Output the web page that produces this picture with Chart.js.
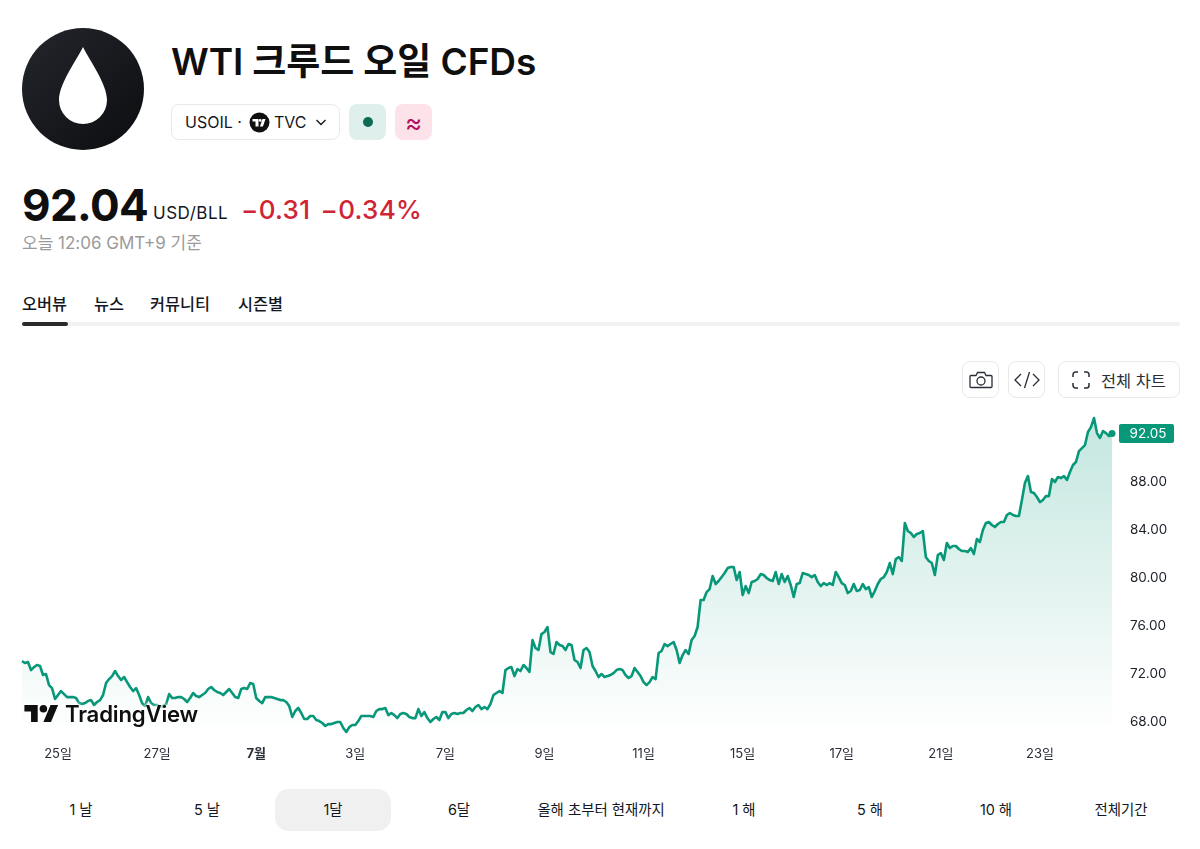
<!DOCTYPE html>
<html lang="ko">
<head>
<meta charset="utf-8">
<title>WTI 크루드 오일 CFDs</title>
<script src="https://cdn.jsdelivr.net/npm/chart.js@4/dist/chart.umd.min.js"></script>
<style>
  * { box-sizing: border-box; }
  html, body { margin: 0; padding: 0; background: #fff; }
  body { width: 1200px; height: 849px; position: relative; overflow: hidden; color: #131722;
         font-family: Inter, "Noto Sans CJK KR", sans-serif; }
  .abs { position: absolute; white-space: nowrap; }
  .logo { left: 22px; top: 28px; width: 122px; height: 122px; }
  .title { left: 171px; top: 39px; font-size: 37px; font-weight: 600; line-height: 46px; letter-spacing: -0.1px; color: #0f0f0f; }
  .box { border: 1px solid #e9e9ea; border-radius: 8px; background: #fff; }
  .pill { left: 171px; top: 104px; width: 169px; height: 36px; }
  .pill span { position: absolute; top: 7px; font-size: 16px; line-height: 20px; }
  .sq { top: 104px; width: 37px; height: 36px; border-radius: 8px; display: flex; align-items: center; justify-content: center; }
  .price { left: 22px; top: 177px; font-size: 44px; font-weight: 700; line-height: 56px; letter-spacing: -0.6px; color: #0f0f0f; }
  .unit { left: 153px; top: 203px; font-size: 17px; line-height: 20px; letter-spacing: 0.5px; }
  .chg { left: 241px; top: 195px; font-size: 26px; font-weight: 500; line-height: 30px; color: #cf2436; word-spacing: 3px; letter-spacing: 0.3px; }
  .asof { left: 22px; top: 233px; font-size: 17px; line-height: 20px; color: #9a9a9a; }
  .tab { top: 294px; font-size: 16.3px; font-weight: 500; line-height: 20px; }
  .rail { left: 22px; top: 322px; width: 1158px; height: 4px; background: #f2f2f2; border-radius: 2px; }
  .rail i { position: absolute; left: 0; top: 0; width: 46px; height: 4px; background: #2a2a2a; border-radius: 2px; }
  .btn { top: 361px; height: 37px; display: flex; align-items: center; justify-content: center; }
  #chartWrap { position: absolute; left: 0; top: 400px; width: 1200px; height: 370px; }
  .tv { left: 24px; top: 700px; height: 26px; display: flex; align-items: center; font-size: 22.2px; font-weight: 600;
        letter-spacing: -0.2px; color: #0f0f0f; text-shadow: 0 0 4px #fff, 0 0 4px #fff, 0 0 4px #fff; }
  .tv svg { filter: drop-shadow(0 0 2px #fff) drop-shadow(0 0 2px #fff); margin-right: 6px; }
  .range { top: 800px; font-size: 14.4px; line-height: 20px; transform: translateX(-50%); }
  .active { left: 275px; top: 789px; width: 116px; height: 42px; background: #f0f0f0; border-radius: 14px; }
</style>
</head>
<body>
  <svg class="abs logo" viewBox="0 0 122 122">
    <defs><linearGradient id="disc" x1="0" y1="0" x2="1" y2="1"><stop offset="0" stop-color="#23262c"/><stop offset="1" stop-color="#0c0d10"/></linearGradient></defs>
    <circle cx="61" cy="61" r="61" fill="url(#disc)"/>
    <path d="M61 19 C68 33 85 56 85 72 A24 24 0 0 1 37 72 C37 56 54 33 61 19 Z" fill="#fff"/>
  </svg>
  <div class="abs title">WTI 크루드 오일 CFDs</div>

  <div class="abs box pill">
    <span style="left:13px">USOIL ·</span>
    <svg style="position:absolute;left:77px;top:7px" width="21" height="21" viewBox="0 0 21 21">
      <circle cx="10.5" cy="10.5" r="10" fill="#0f0f0f"/>
      <path d="M9.500 7H3.500v2.600h3V14.500h3Z M16.500 7h-3l-2.600 7.500h3Z" fill="#fff"/><circle cx="11.200" cy="8.400" r="1.400" fill="#fff"/>
    </svg>
    <span style="left:102px">TVC</span>
    <svg style="position:absolute;left:143px;top:13px" width="12" height="9" viewBox="0 0 12 9"><path d="M1.500 2 6 6.500 10.500 2" fill="none" stroke="#131722" stroke-width="1.400"/></svg>
  </div>
  <div class="abs sq" style="left:349px;background:#dff0ec"><svg width="10" height="10"><circle cx="5" cy="5" r="5" fill="#0b6b55"/></svg></div>
  <div class="abs sq" style="left:395px;background:#fde2ea;color:#b0105f;font-size:26px;font-weight:400">≈</div>

  <div class="abs price">92.04</div>
  <div class="abs unit">USD/BLL</div>
  <div class="abs chg">−0.31 −0.34%</div>
  <div class="abs asof">오늘 12:06 GMT+9 기준</div>

  <div class="abs tab" style="left:22px">오버뷰</div>
  <div class="abs tab" style="left:94px">뉴스</div>
  <div class="abs tab" style="left:150px">커뮤니티</div>
  <div class="abs tab" style="left:238px">시즌별</div>
  <div class="abs rail"><i></i></div>

  <div class="abs box btn" style="left:962px;width:37px">
    <svg width="24" height="20" viewBox="0 0 24 20" fill="none" stroke="#2a2e39" stroke-width="1.300"><path d="M2 5.500h5l1.500-3h7l1.500 3h5a1 1 0 0 1 1 1v10a1 1 0 0 1-1 1H2a1 1 0 0 1-1-1v-10a1 1 0 0 1 1-1Z"/><circle cx="12" cy="11" r="4"/></svg>
  </div>
  <div class="abs box btn" style="left:1008px;width:37px">
    <svg width="28" height="20" viewBox="0 0 28 20" fill="none" stroke="#2a2e39" stroke-width="1.300"><path d="M8 4 2 10l6 6M20 4l6 6-6 6M16.500 2l-5 16"/></svg>
  </div>
  <div class="abs box btn" style="left:1058px;width:122px;justify-content:flex-start;font-size:16.4px;font-weight:400;color:#2a2e39">
    <svg style="margin:0 11px 0 13px" width="18" height="18" viewBox="0 0 18 18" fill="none" stroke="#2a2e39" stroke-width="1.500"><path d="M1 6V3.500A2.500 2.500 0 0 1 3.500 1H6M12 1h2.500A2.500 2.500 0 0 1 17 3.500V6M17 12v2.500a2.500 2.500 0 0 1-2.500 2.500H12M6 17H3.500A2.500 2.500 0 0 1 1 14.500V12"/></svg>전체 차트
  </div>

  <div id="chartWrap"><canvas id="oilChart" width="1200" height="370"></canvas></div>

  <div class="abs tv">
    <svg width="35" height="19" viewBox="0 0 36 20" fill="#0f0f0f"><path d="M14 1H0v7h7v11h7Z"/><circle cx="20" cy="5" r="4"/><path d="M28 19h-8l7.500-18h8Z"/></svg>TradingView
  </div>

  <div class="abs active"></div>
  <div class="abs range" style="left:81px">1 날</div>
  <div class="abs range" style="left:207px">5 날</div>
  <div class="abs range" style="left:333px">1달</div>
  <div class="abs range" style="left:459px">6달</div>
  <div class="abs range" style="left:601px">올해 초부터 현재까지</div>
  <div class="abs range" style="left:744px">1 해</div>
  <div class="abs range" style="left:870px">5 해</div>
  <div class="abs range" style="left:996px">10 해</div>
  <div class="abs range" style="left:1121px">전체기간</div>

<script>
// USOIL closing prices in USD/BLL, one month of intraday bars.
const prices = [
  73.08,72.92,73.00,72.33,72.58,72.75,72.67,71.92,72.00,71.08,70.83,69.92,70.25,70.58,70.33,70.08,70.08,70.08,70.00,69.58,
  69.50,69.58,69.75,69.83,69.42,69.67,69.83,70.25,71.25,71.58,71.83,72.25,71.83,71.50,71.75,71.33,70.92,70.58,70.83,70.25,
  69.58,69.33,70.08,69.58,69.42,69.42,69.25,69.33,69.50,70.33,70.00,70.00,70.08,70.08,69.92,69.67,70.00,70.42,70.17,70.08,
  70.25,70.42,70.75,70.92,70.67,70.50,70.42,70.25,70.50,70.75,70.42,70.08,70.00,70.75,70.83,70.75,71.25,71.17,70.00,69.75,
  69.58,70.08,70.08,70.08,70.00,69.92,69.83,69.83,69.67,69.33,68.42,68.92,69.17,68.75,68.25,68.25,68.50,68.50,68.17,68.08,
  67.92,67.67,67.83,67.83,67.92,68.00,68.00,67.50,67.17,67.58,67.75,67.75,68.08,68.50,68.50,68.50,68.50,68.42,68.92,69.08,
  69.08,69.17,68.58,68.75,68.58,68.33,68.67,68.75,68.67,68.42,68.33,68.33,69.08,68.50,68.83,68.33,68.00,68.25,68.42,68.17,
  68.83,68.83,68.33,68.67,68.75,68.67,68.75,68.75,69.00,69.17,68.92,69.25,69.42,69.08,69.25,69.08,69.50,70.25,70.42,70.58,
  70.42,72.33,72.50,72.58,71.83,72.42,72.25,72.75,72.50,72.17,74.83,74.17,74.00,75.33,75.50,75.92,73.83,73.67,74.67,74.42,
  74.33,74.00,74.50,74.42,73.17,73.00,72.50,74.00,74.17,73.83,72.67,72.25,71.75,72.00,71.75,71.83,71.92,72.08,72.33,72.42,
  72.33,71.92,71.67,71.83,72.50,72.17,71.83,71.33,71.08,71.33,71.75,71.58,73.75,73.92,74.50,74.33,74.50,74.67,74.00,72.92,
  73.58,74.00,73.67,74.83,75.17,75.92,78.17,78.17,78.83,79.08,80.17,79.50,79.75,80.08,80.42,80.83,80.92,80.92,79.83,80.50,
  78.58,79.33,78.75,79.67,79.75,79.92,80.33,80.25,80.00,79.83,79.75,80.50,79.50,80.33,79.67,80.17,79.42,78.42,79.50,79.58,
  80.42,80.33,80.25,80.08,80.25,79.67,79.33,79.58,79.42,79.58,79.42,80.50,80.08,79.58,79.42,78.75,78.92,79.50,78.92,79.00,
  79.50,79.08,79.25,78.42,78.92,79.50,79.92,80.08,80.50,81.25,80.33,81.58,81.75,81.42,84.58,83.92,83.75,83.42,83.67,83.75,
  83.92,81.75,81.42,81.25,80.25,81.92,82.08,81.50,82.92,82.50,82.67,82.67,82.42,82.25,82.25,82.17,82.50,82.00,83.25,83.00,
  84.00,84.58,84.67,84.42,84.25,84.50,84.67,84.67,85.25,85.42,85.25,85.17,85.17,86.50,87.92,88.50,87.17,87.08,86.75,86.33,
  86.50,86.83,86.83,88.25,88.00,88.42,88.33,88.50,88.17,88.83,89.42,89.67,90.58,90.83,91.08,92.17,92.58,93.33,92.08,91.67,
  92.25,92.08,91.83,92.05
];
// Bar index of each date label on the time axis.
const dateTickIndex = [12, 45, 78, 111, 141, 174, 207, 240, 273, 306, 339];
const dateTickLabels = ['25일', '27일', '7월', '3일', '7일', '9일', '11일', '15일', '17일', '21일', '23일'];
const priceTicks = [68, 72, 76, 80, 84, 88];
const seriesName = 'USOIL';

const LINE = '#089879';
const FONT = 'Inter, "Noto Sans CJK KR", sans-serif';
const categories = prices.map((_, i) => {
  const k = dateTickIndex.indexOf(i);
  return k >= 0 ? dateTickLabels[k] : String(i);
});

// Price tag pinned to the right axis at the latest value.
const lastPriceTag = {
  id: 'lastPriceTag',
  afterDraw(chart) {
    const { ctx, scales: { y } } = chart;
    const last = prices[prices.length - 1];
    const py = y.getPixelForValue(last);
    ctx.save();
    ctx.fillStyle = LINE;
    ctx.beginPath();
    ctx.roundRect(1119, py - 9.5, 55, 19, 2);
    ctx.fill();
    ctx.fillStyle = '#fff';
    ctx.font = '13.5px ' + FONT;
    ctx.textAlign = 'center';
    ctx.textBaseline = 'middle';
    ctx.fillText(last.toFixed(2), 1148, py + 0.5);
    ctx.restore();
  }
};

// Keep the plot edges fixed regardless of tick label overhang.
const noLabelPadding = s => {
  s.paddingTop = 0;
  s.paddingBottom = 0;
  s.paddingLeft = 0;
  s.paddingRight = 0;
};

new Chart(document.getElementById('oilChart'), {
  type: 'line',
  data: {
    labels: categories,
    datasets: [{
      label: seriesName,
      data: prices,
      borderColor: LINE,
      borderWidth: 2.6,
      borderJoinStyle: 'round',
      tension: 0,
      pointRadius: c => (c.dataIndex === prices.length - 1 ? 3.5 : 0),
      pointBackgroundColor: LINE,
      pointBorderWidth: 0,
      fill: 'start',
      backgroundColor: c => {
        const a = c.chart.chartArea;
        if (!a) return 'transparent';
        const g = c.chart.ctx.createLinearGradient(0, a.top + 15, 0, a.bottom);
        g.addColorStop(0, 'rgba(8,152,121,0.24)');
        g.addColorStop(1, 'rgba(8,152,121,0)');
        return g;
      }
    }]
  },
  plugins: [lastPriceTag],
  options: {
    responsive: false,
    animation: false,
    layout: { autoPadding: false, padding: { left: 22, top: 5, right: 0, bottom: 0 } },
    plugins: { legend: { display: false }, tooltip: { enabled: false } },
    scales: {
      x: {
        offset: false,
        grid: { display: false, drawTicks: false },
        border: { display: false },
        afterBuildTicks: s => { s.ticks = dateTickIndex.map(v => ({ value: v })); },
        afterFit: s => { s.height = 35; noLabelPadding(s); },
        ticks: {
          autoSkip: false,
          maxRotation: 0,
          padding: 11,
          color: '#2a2e39',
          font: c => ({ family: FONT, size: 13, weight: dateTickLabels[c.index] === '7월' ? '700' : '400' }),
          callback: (_, i) => dateTickLabels[i]
        }
      },
      y: {
        position: 'right',
        bounds: 'data',
        min: 66.92,
        max: 94.42,
        grid: { display: false, drawTicks: false },
        border: { display: false },
        afterBuildTicks: s => { s.ticks = priceTicks.map(v => ({ value: v })); },
        afterFit: s => { s.width = 88; noLabelPadding(s); },
        ticks: {
          padding: 18,
          color: '#1c2029',
          font: { family: FONT, size: 13.5 },
          callback: v => v.toFixed(2)
        }
      }
    }
  }
});
</script>
</body>
</html>
